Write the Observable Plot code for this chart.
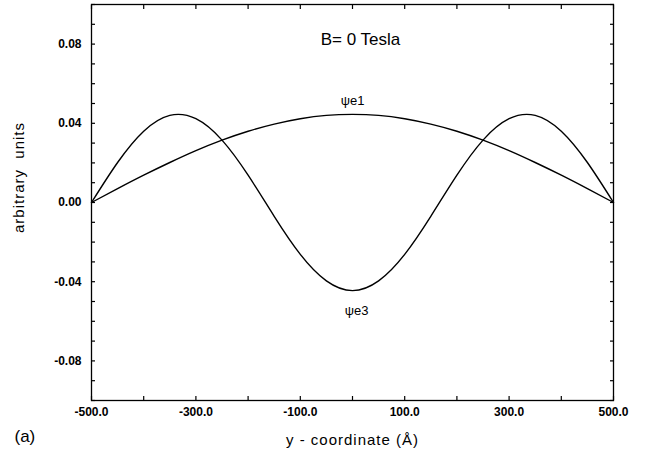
<!DOCTYPE html>
<html>
<head>
<meta charset="utf-8">
<script src="https://cdn.jsdelivr.net/npm/d3@7"></script>
<script src="https://cdn.jsdelivr.net/npm/@observablehq/plot@0.6"></script>
<style>
  html, body { margin: 0; padding: 0; background: #fff; }
  #chart svg { display: block; }
</style>
</head>
<body>
<div id="chart"></div>
<script>
// Position along y (Å), sampled every 50 Å
const yCoord = [-500, -450, -400, -350, -300, -250, -200, -150, -100, -50, 0,
                50, 100, 150, 200, 250, 300, 350, 400, 450, 500];
// Ground state ψe1
const psiE1 = [0.0000, 0.0070, 0.0138, 0.0202, 0.0262, 0.0315, 0.0360, 0.0396, 0.0423, 0.0440, 0.0445,
               0.0440, 0.0423, 0.0396, 0.0360, 0.0315, 0.0262, 0.0202, 0.0138, 0.0070, 0.0000];
// Third state ψe3
const psiE3 = [0.0000, 0.0202, 0.0360, 0.0440, 0.0423, 0.0315, 0.0138, -0.0070, -0.0262, -0.0396, -0.0445,
               -0.0396, -0.0262, -0.0070, 0.0138, 0.0315, 0.0423, 0.0440, 0.0360, 0.0202, 0.0000];

const xLabelTicks = [-500, -300, -100, 100, 300, 500];
const xMinorTicks = d3.range(-500, 501, 100);
const yLabelTicks = [-0.08, -0.04, 0, 0.04, 0.08];
const yMinorTicks = d3.range(-10, 11).map(k => k / 100);

const e1 = yCoord.map((y, i) => ({y, v: psiE1[i]}));
const e3 = yCoord.map((y, i) => ({y, v: psiE3[i]}));

const font = "'Liberation Sans', Arial, Helvetica, sans-serif";

const chart = Plot.plot({
  width: 646,
  height: 462,
  marginLeft: 91,
  marginRight: 33,
  marginTop: 4,
  marginBottom: 62,
  style: {fontFamily: font, fontSize: "13px", color: "#000", background: "#fff"},
  x: {domain: [-500, 500]},
  y: {domain: [-0.1, 0.1]},
  marks: [
    Plot.frame({stroke: "#000", strokeWidth: 1.3}),
    // inward ticks on all four sides
    Plot.axisX({anchor: "bottom", ticks: xMinorTicks, tickSize: -4, text: null, label: null, strokeWidth: 1.2}),
    Plot.axisX({anchor: "top", ticks: xMinorTicks, tickSize: -4, text: null, label: null, strokeWidth: 1.2}),
    Plot.axisY({anchor: "left", ticks: yMinorTicks, tickSize: -4, text: null, label: null, strokeWidth: 1.2}),
    Plot.axisY({anchor: "right", ticks: yMinorTicks, tickSize: -4, text: null, label: null, strokeWidth: 1.2}),
    // tick labels and x-axis title
    Plot.axisX({
      anchor: "bottom", ticks: xLabelTicks, tickSize: 0, tickPadding: 7,
      tickFormat: d => d.toFixed(1), fontSize: 12, fontWeight: "bold",
      label: "y - coordinate (Å)", labelAnchor: "center", labelArrow: "none", labelOffset: 44
    }),
    Plot.axisY({
      anchor: "left", ticks: yLabelTicks, tickSize: 0, tickPadding: 10,
      tickFormat: d => d.toFixed(2), fontSize: 12, fontWeight: "bold", label: null
    }),
    // y-axis title
    Plot.text(["arbitrary  units"], {
      frameAnchor: "left", textAnchor: "middle", rotate: -90, dx: -72, dy: -25, fontSize: 15
    }),
    // wavefunctions
    Plot.line(e1, {x: "y", y: "v", curve: "natural", stroke: "#000", strokeWidth: 1.4}),
    Plot.line(e3, {x: "y", y: "v", curve: "natural", stroke: "#000", strokeWidth: 1.4}),
    // state labels next to the extrema at the centre
    Plot.text(e1.filter(d => d.y === 0), {x: "y", y: "v", text: () => "ψe1", dy: -14, fontSize: 13}),
    Plot.text(e3.filter(d => d.y === 0), {x: "y", y: "v", text: () => "ψe3", dy: 20, dx: 4, fontSize: 13}),
    Plot.text(["B= 0 Tesla"], {frameAnchor: "top", dy: 28, dx: 8, fontSize: 17}),
    Plot.text(["(a)"], {frameAnchor: "bottom-left", dx: -77, dy: 41, fontSize: 17, textAnchor: "start"})
  ]
});

// x-axis title: regular weight, slightly spaced
chart.querySelectorAll("g[aria-label='x-axis label']").forEach(g => g.setAttribute("font-weight", "normal"));
chart.querySelectorAll("g[aria-label='x-axis label'] text").forEach(t => {
  t.setAttribute("font-size", "15");
  t.setAttribute("font-weight", "normal");
  t.setAttribute("letter-spacing", "1");
});
// keep the double space in the y title, with the same spacing
chart.querySelectorAll("text").forEach(t => {
  if (t.textContent === "arbitrary  units") {
    t.setAttribute("xml:space", "preserve");
    t.style.whiteSpace = "pre";
    t.setAttribute("letter-spacing", "1");
  }
});

document.getElementById("chart").appendChild(chart);
</script>
</body>
</html>
